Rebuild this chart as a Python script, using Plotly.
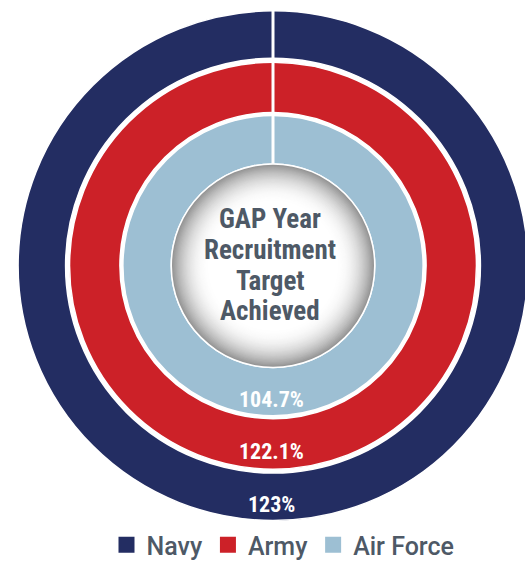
import plotly.graph_objects as go

# ---- data ----
services = ["Navy", "Army", "Air Force"]
achieved = [123.0, 122.1, 104.7]
value_labels = ["123%", "122.1%", "104.7%"]
colors = ["#232d62", "#cc2128", "#9dbfd3"]
center_title = ["GAP Year", "Recruitment", "Target", "Achieved"]

# ---- geometry (pixels) ----
W, H = 531, 568          # page is shown in a 525px window, right edge clipped like the original
CX, CY = 273, 269
rings = [(210, 258), (155, 206), (103, 152)]  # (inner, outer) radius per ring
CORE_R = 101

FONT = "Roboto Condensed, Roboto, sans-serif"
LEG_FONT = "Roboto, sans-serif"
TEXT_COL = "#4e5966"

fig = go.Figure()
for name, val, col, (rin, rout) in zip(services, achieved, colors, rings):
    dom_x = [(CX - rout) / W, min(1.0, (CX + rout) / W)]
    dom_y = [(H - CY - rout) / H, (H - CY + rout) / H]
    fig.add_trace(go.Pie(
        labels=[name], values=[val], hole=rin / rout,
        domain=dict(x=dom_x, y=dom_y),
        sort=False, direction="clockwise", rotation=0,
        textinfo="none", hoverinfo="label+value",
        marker=dict(colors=[col], line=dict(color="white", width=1.5)),
        showlegend=False, name=name,
    ))

# legend entries (square swatches)
for name, col in zip(services, colors):
    fig.add_trace(go.Scatter(x=[None], y=[None], mode="markers", name=name,
                             marker=dict(symbol="square", size=16, color=col),
                             showlegend=True, hoverinfo="skip"))

shapes = []
shapes.append(dict(type="circle", xref="paper", yref="paper",
                   xsizemode="pixel", ysizemode="pixel",
                   xanchor=CX / W, yanchor=(H - CY) / H,
                   x0=-(CORE_R + 1.5), x1=CORE_R + 1.5, y0=-(CORE_R + 1.5), y1=CORE_R + 1.5,
                   fillcolor="white", line=dict(width=0), layer="above"))
steps = 32
for i in range(steps + 1):
    r = CORE_R - i * 1.2
    t = max(0.0, 1 - i / steps) ** 2.2
    g = int(round(255 - (255 - 150) * t))
    shapes.append(dict(type="circle", xref="paper", yref="paper",
                       xsizemode="pixel", ysizemode="pixel",
                       xanchor=CX / W, yanchor=(H - CY) / H,
                       x0=-r, x1=r, y0=-r, y1=r,
                       fillcolor=f"rgb({g},{g},{g})", line=dict(width=0), layer="above"))
shapes.append(dict(type="line", xref="paper", yref="paper",
                   xsizemode="pixel", ysizemode="pixel",
                   xanchor=CX / W, yanchor=(H - CY) / H,
                   x0=0, x1=0, y0=CORE_R + 1, y1=rings[0][1] + 3,
                   line=dict(color="white", width=3), layer="above"))

annotations = []
for lab, (rin, rout) in zip(value_labels, rings):
    rm = (rin + rout) / 2 + 8
    annotations.append(dict(x=(CX - 2) / W, y=(H - CY - rm) / H, xref="paper", yref="paper",
                            text=lab, showarrow=False, xanchor="center", yanchor="middle",
                            font=dict(family=FONT, size=22, color="white", weight="bold")))
for k, line in enumerate(center_title):
    yc = 222 + k * 31
    annotations.append(dict(x=(CX - 3) / W, y=(H - yc) / H, xref="paper", yref="paper",
                            text=line, showarrow=False, xanchor="center", yanchor="middle",
                            font=dict(family=FONT, size=27, color=TEXT_COL, weight="bold")))

fig.update_layout(
    width=W, height=H,
    margin=dict(l=0, r=0, t=0, b=0),
    paper_bgcolor="white", plot_bgcolor="white",
    xaxis=dict(visible=False), yaxis=dict(visible=False),
    shapes=shapes, annotations=annotations,
    legend=dict(orientation="h", x=283 / W, xanchor="center", y=(H - 552) / H, yanchor="middle",
                font=dict(family=LEG_FONT, size=25, color=TEXT_COL, weight=500),
                traceorder="normal", itemclick=False, itemdoubleclick=False),
)
fig.write_html("out.html", config={"displayModeBar": False},
               post_script="document.body.style.margin='0';document.body.style.overflow='hidden';")
